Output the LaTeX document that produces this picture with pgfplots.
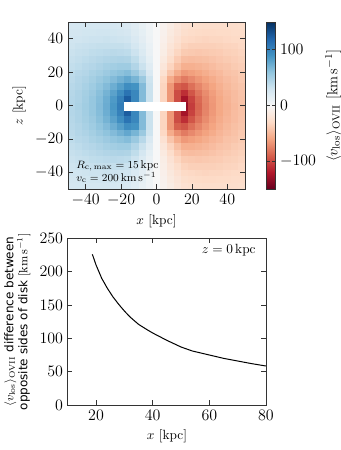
\documentclass[border=0pt]{standalone}
\usepackage{fontspec}
\usepackage{pgfplots}
\pgfplotsset{compat=1.18}
\newfontfamily\dejavu{DejaVu Sans}

\pgfplotsset{
  colormap={rdbu}{rgb255=(103,0,31) rgb255=(178,24,43) rgb255=(214,96,77)
    rgb255=(244,165,130) rgb255=(253,219,199) rgb255=(247,247,247)
    rgb255=(209,229,240) rgb255=(146,197,222) rgb255=(67,147,195)
    rgb255=(33,102,172) rgb255=(5,48,97)},
  panel/.style={scale only axis, axis on top, tick align=inside,
    major tick length=3.5pt, minor tick num=0,
    axis line style={black!80, line width=0.7pt},
    tick style={black!80, line width=0.6pt},
    tick label style={font=\fontsize{12}{14}\selectfont},
    label style={font=\fontsize{10}{12}\selectfont}},
}

\begin{document}
\begin{tikzpicture}
\path[use as bounding box] (0,0) rectangle (255pt,-337.5pt);

% top: line-of-sight velocity map
\begin{axis}[panel,
  at={(51pt,-141.75pt)}, anchor=south west,
  width=132.75pt, height=125.25pt,
  xmin=-50, xmax=50, ymin=-50, ymax=50, enlargelimits=false,
  xtick={-40,-20,0,20,40}, ytick={-40,-20,0,20,40},
  xlabel={$x$ [kpc]}, ylabel={$z$ [kpc]},
  colormap name=rdbu, point meta min=-150, point meta max=150,
  colorbar,
  colorbar style={at={(parent axis.north east)}, anchor=north west,
    xshift=7.5pt, width=6.75pt,
    ytick={-100,0,100}, yticklabel pos=right, ytick pos=both,
    tick align=inside, major tick length=2.5pt,
    axis line style={black!80, line width=0.7pt},
    tick style={black!80, line width=0.6pt},
    tick label style={font=\fontsize{12}{14}\selectfont},
    ylabel={$\langle v_{\mathrm{los}}\rangle_{\mathrm{OVII}}$ [km\,s$^{-1}$]},
    ylabel style={font=\fontsize{11}{13}\selectfont}},
]
\addplot[matrix plot*, mesh/cols=25, point meta=explicit]
  table[meta=v, row sep=\\] {
x y v\\
-48 -48 26\\ -44 -48 27\\ -40 -48 27\\ -36 -48 27\\ -32 -48 27\\ -28 -48 27\\ -24 -48 26\\ -20 -48 25\\ -16 -48 23\\ -12 -48 18\\ -8 -48 12\\ -4 -48 6\\ 0 -48 0\\ 4 -48 -6\\ 8 -48 -12\\ 12 -48 -18\\ 16 -48 -23\\ 20 -48 -25\\ 24 -48 -26\\ 28 -48 -27\\ 32 -48 -27\\ 36 -48 -27\\ 40 -48 -27\\ 44 -48 -27\\ 48 -48 -26\\
-48 -44 28\\ -44 -44 28\\ -40 -44 29\\ -36 -44 29\\ -32 -44 30\\ -28 -44 30\\ -24 -44 29\\ -20 -44 28\\ -16 -44 26\\ -12 -44 20\\ -8 -44 14\\ -4 -44 7\\ 0 -44 0\\ 4 -44 -7\\ 8 -44 -14\\ 12 -44 -20\\ 16 -44 -26\\ 20 -44 -28\\ 24 -44 -29\\ 28 -44 -30\\ 32 -44 -30\\ 36 -44 -29\\ 40 -44 -29\\ 44 -44 -28\\ 48 -44 -28\\
-48 -40 30\\ -44 -40 30\\ -40 -40 31\\ -36 -40 32\\ -32 -40 32\\ -28 -40 33\\ -24 -40 32\\ -20 -40 31\\ -16 -40 30\\ -12 -40 23\\ -8 -40 16\\ -4 -40 8\\ 0 -40 0\\ 4 -40 -8\\ 8 -40 -16\\ 12 -40 -23\\ 16 -40 -30\\ 20 -40 -31\\ 24 -40 -32\\ 28 -40 -33\\ 32 -40 -32\\ 36 -40 -32\\ 40 -40 -31\\ 44 -40 -30\\ 48 -40 -30\\
-48 -36 31\\ -44 -36 33\\ -40 -36 34\\ -36 -36 35\\ -32 -36 36\\ -28 -36 36\\ -24 -36 36\\ -20 -36 36\\ -16 -36 34\\ -12 -36 27\\ -8 -36 19\\ -4 -36 10\\ 0 -36 0\\ 4 -36 -10\\ 8 -36 -19\\ 12 -36 -27\\ 16 -36 -34\\ 20 -36 -36\\ 24 -36 -36\\ 28 -36 -36\\ 32 -36 -36\\ 36 -36 -35\\ 40 -36 -34\\ 44 -36 -33\\ 48 -36 -31\\
-48 -32 33\\ -44 -32 35\\ -40 -32 36\\ -36 -32 38\\ -32 -32 39\\ -28 -32 40\\ -24 -32 41\\ -20 -32 40\\ -16 -32 39\\ -12 -32 32\\ -8 -32 22\\ -4 -32 11\\ 0 -32 0\\ 4 -32 -11\\ 8 -32 -22\\ 12 -32 -32\\ 16 -32 -39\\ 20 -32 -40\\ 24 -32 -41\\ 28 -32 -40\\ 32 -32 -39\\ 36 -32 -38\\ 40 -32 -36\\ 44 -32 -35\\ 48 -32 -33\\
-48 -28 35\\ -44 -28 37\\ -40 -28 39\\ -36 -28 41\\ -32 -28 43\\ -28 -28 45\\ -24 -28 46\\ -20 -28 47\\ -16 -28 46\\ -12 -28 38\\ -8 -28 27\\ -4 -28 14\\ 0 -28 0\\ 4 -28 -14\\ 8 -28 -27\\ 12 -28 -38\\ 16 -28 -46\\ 20 -28 -47\\ 24 -28 -46\\ 28 -28 -45\\ 32 -28 -43\\ 36 -28 -41\\ 40 -28 -39\\ 44 -28 -37\\ 48 -28 -35\\
-48 -24 37\\ -44 -24 39\\ -40 -24 42\\ -36 -24 44\\ -32 -24 47\\ -28 -24 50\\ -24 -24 52\\ -20 -24 54\\ -16 -24 54\\ -12 -24 45\\ -8 -24 33\\ -4 -24 18\\ 0 -24 0\\ 4 -24 -18\\ 8 -24 -33\\ 12 -24 -45\\ 16 -24 -54\\ 20 -24 -54\\ 24 -24 -52\\ 28 -24 -50\\ 32 -24 -47\\ 36 -24 -44\\ 40 -24 -42\\ 44 -24 -39\\ 48 -24 -37\\
-48 -20 39\\ -44 -20 42\\ -40 -20 44\\ -36 -20 48\\ -32 -20 51\\ -28 -20 55\\ -24 -20 59\\ -20 -20 62\\ -16 -20 65\\ -12 -20 56\\ -8 -20 42\\ -4 -20 23\\ 0 -20 0\\ 4 -20 -23\\ 8 -20 -42\\ 12 -20 -56\\ 16 -20 -65\\ 20 -20 -62\\ 24 -20 -59\\ 28 -20 -55\\ 32 -20 -51\\ 36 -20 -48\\ 40 -20 -44\\ 44 -20 -42\\ 48 -20 -39\\
-48 -16 40\\ -44 -16 44\\ -40 -16 47\\ -36 -16 51\\ -32 -16 56\\ -28 -16 61\\ -24 -16 66\\ -20 -16 72\\ -16 -16 78\\ -12 -16 70\\ -8 -16 56\\ -4 -16 31\\ 0 -16 0\\ 4 -16 -31\\ 8 -16 -56\\ 12 -16 -70\\ 16 -16 -78\\ 20 -16 -72\\ 24 -16 -66\\ 28 -16 -61\\ 32 -16 -56\\ 36 -16 -51\\ 40 -16 -47\\ 44 -16 -44\\ 48 -16 -40\\
-48 -12 42\\ -44 -12 45\\ -40 -12 49\\ -36 -12 54\\ -32 -12 60\\ -28 -12 66\\ -24 -12 74\\ -20 -12 83\\ -16 -12 94\\ -12 -12 90\\ -8 -12 66\\ -4 -12 33\\ 0 -12 0\\ 4 -12 -33\\ 8 -12 -66\\ 12 -12 -90\\ 16 -12 -94\\ 20 -12 -83\\ 24 -12 -74\\ 28 -12 -66\\ 32 -12 -60\\ 36 -12 -54\\ 40 -12 -49\\ 44 -12 -45\\ 48 -12 -42\\
-48 -8 43\\ -44 -8 47\\ -40 -8 51\\ -36 -8 56\\ -32 -8 63\\ -28 -8 71\\ -24 -8 81\\ -20 -8 94\\ -16 -8 111\\ -12 -8 98\\ -8 -8 66\\ -4 -8 33\\ 0 -8 0\\ 4 -8 -33\\ 8 -8 -66\\ 12 -8 -98\\ 16 -8 -111\\ 20 -8 -94\\ 24 -8 -81\\ 28 -8 -71\\ 32 -8 -63\\ 36 -8 -56\\ 40 -8 -51\\ 44 -8 -47\\ 48 -8 -43\\
-48 -4 44\\ -44 -4 47\\ -40 -4 52\\ -36 -4 58\\ -32 -4 65\\ -28 -4 74\\ -24 -4 86\\ -20 -4 102\\ -16 -4 125\\ -12 -4 98\\ -8 -4 66\\ -4 -4 33\\ 0 -4 0\\ 4 -4 -33\\ 8 -4 -66\\ 12 -4 -98\\ 16 -4 -125\\ 20 -4 -102\\ 24 -4 -86\\ 28 -4 -74\\ 32 -4 -65\\ 36 -4 -58\\ 40 -4 -52\\ 44 -4 -47\\ 48 -4 -44\\
-48 0 44\\ -44 0 48\\ -40 0 53\\ -36 0 58\\ -32 0 66\\ -28 0 75\\ -24 0 88\\ -20 0 105\\ -16 0 131\\ -12 0 98\\ -8 0 66\\ -4 0 33\\ 0 0 0\\ 4 0 -33\\ 8 0 -66\\ 12 0 -98\\ 16 0 -131\\ 20 0 -105\\ 24 0 -88\\ 28 0 -75\\ 32 0 -66\\ 36 0 -58\\ 40 0 -53\\ 44 0 -48\\ 48 0 -44\\
-48 4 44\\ -44 4 47\\ -40 4 52\\ -36 4 58\\ -32 4 65\\ -28 4 74\\ -24 4 86\\ -20 4 102\\ -16 4 125\\ -12 4 98\\ -8 4 66\\ -4 4 33\\ 0 4 0\\ 4 4 -33\\ 8 4 -66\\ 12 4 -98\\ 16 4 -125\\ 20 4 -102\\ 24 4 -86\\ 28 4 -74\\ 32 4 -65\\ 36 4 -58\\ 40 4 -52\\ 44 4 -47\\ 48 4 -44\\
-48 8 43\\ -44 8 47\\ -40 8 51\\ -36 8 56\\ -32 8 63\\ -28 8 71\\ -24 8 81\\ -20 8 94\\ -16 8 111\\ -12 8 98\\ -8 8 66\\ -4 8 33\\ 0 8 0\\ 4 8 -33\\ 8 8 -66\\ 12 8 -98\\ 16 8 -111\\ 20 8 -94\\ 24 8 -81\\ 28 8 -71\\ 32 8 -63\\ 36 8 -56\\ 40 8 -51\\ 44 8 -47\\ 48 8 -43\\
-48 12 42\\ -44 12 45\\ -40 12 49\\ -36 12 54\\ -32 12 60\\ -28 12 66\\ -24 12 74\\ -20 12 83\\ -16 12 94\\ -12 12 90\\ -8 12 66\\ -4 12 33\\ 0 12 0\\ 4 12 -33\\ 8 12 -66\\ 12 12 -90\\ 16 12 -94\\ 20 12 -83\\ 24 12 -74\\ 28 12 -66\\ 32 12 -60\\ 36 12 -54\\ 40 12 -49\\ 44 12 -45\\ 48 12 -42\\
-48 16 40\\ -44 16 44\\ -40 16 47\\ -36 16 51\\ -32 16 56\\ -28 16 61\\ -24 16 66\\ -20 16 72\\ -16 16 78\\ -12 16 70\\ -8 16 56\\ -4 16 31\\ 0 16 0\\ 4 16 -31\\ 8 16 -56\\ 12 16 -70\\ 16 16 -78\\ 20 16 -72\\ 24 16 -66\\ 28 16 -61\\ 32 16 -56\\ 36 16 -51\\ 40 16 -47\\ 44 16 -44\\ 48 16 -40\\
-48 20 39\\ -44 20 42\\ -40 20 44\\ -36 20 48\\ -32 20 51\\ -28 20 55\\ -24 20 59\\ -20 20 62\\ -16 20 65\\ -12 20 56\\ -8 20 42\\ -4 20 23\\ 0 20 0\\ 4 20 -23\\ 8 20 -42\\ 12 20 -56\\ 16 20 -65\\ 20 20 -62\\ 24 20 -59\\ 28 20 -55\\ 32 20 -51\\ 36 20 -48\\ 40 20 -44\\ 44 20 -42\\ 48 20 -39\\
-48 24 37\\ -44 24 39\\ -40 24 42\\ -36 24 44\\ -32 24 47\\ -28 24 50\\ -24 24 52\\ -20 24 54\\ -16 24 54\\ -12 24 45\\ -8 24 33\\ -4 24 18\\ 0 24 0\\ 4 24 -18\\ 8 24 -33\\ 12 24 -45\\ 16 24 -54\\ 20 24 -54\\ 24 24 -52\\ 28 24 -50\\ 32 24 -47\\ 36 24 -44\\ 40 24 -42\\ 44 24 -39\\ 48 24 -37\\
-48 28 35\\ -44 28 37\\ -40 28 39\\ -36 28 41\\ -32 28 43\\ -28 28 45\\ -24 28 46\\ -20 28 47\\ -16 28 46\\ -12 28 38\\ -8 28 27\\ -4 28 14\\ 0 28 0\\ 4 28 -14\\ 8 28 -27\\ 12 28 -38\\ 16 28 -46\\ 20 28 -47\\ 24 28 -46\\ 28 28 -45\\ 32 28 -43\\ 36 28 -41\\ 40 28 -39\\ 44 28 -37\\ 48 28 -35\\
-48 32 33\\ -44 32 35\\ -40 32 36\\ -36 32 38\\ -32 32 39\\ -28 32 40\\ -24 32 41\\ -20 32 40\\ -16 32 39\\ -12 32 32\\ -8 32 22\\ -4 32 11\\ 0 32 0\\ 4 32 -11\\ 8 32 -22\\ 12 32 -32\\ 16 32 -39\\ 20 32 -40\\ 24 32 -41\\ 28 32 -40\\ 32 32 -39\\ 36 32 -38\\ 40 32 -36\\ 44 32 -35\\ 48 32 -33\\
-48 36 31\\ -44 36 33\\ -40 36 34\\ -36 36 35\\ -32 36 36\\ -28 36 36\\ -24 36 36\\ -20 36 36\\ -16 36 34\\ -12 36 27\\ -8 36 19\\ -4 36 10\\ 0 36 0\\ 4 36 -10\\ 8 36 -19\\ 12 36 -27\\ 16 36 -34\\ 20 36 -36\\ 24 36 -36\\ 28 36 -36\\ 32 36 -36\\ 36 36 -35\\ 40 36 -34\\ 44 36 -33\\ 48 36 -31\\
-48 40 30\\ -44 40 30\\ -40 40 31\\ -36 40 32\\ -32 40 32\\ -28 40 33\\ -24 40 32\\ -20 40 31\\ -16 40 30\\ -12 40 23\\ -8 40 16\\ -4 40 8\\ 0 40 0\\ 4 40 -8\\ 8 40 -16\\ 12 40 -23\\ 16 40 -30\\ 20 40 -31\\ 24 40 -32\\ 28 40 -33\\ 32 40 -32\\ 36 40 -32\\ 40 40 -31\\ 44 40 -30\\ 48 40 -30\\
-48 44 28\\ -44 44 28\\ -40 44 29\\ -36 44 29\\ -32 44 30\\ -28 44 30\\ -24 44 29\\ -20 44 28\\ -16 44 26\\ -12 44 20\\ -8 44 14\\ -4 44 7\\ 0 44 0\\ 4 44 -7\\ 8 44 -14\\ 12 44 -20\\ 16 44 -26\\ 20 44 -28\\ 24 44 -29\\ 28 44 -30\\ 32 44 -30\\ 36 44 -29\\ 40 44 -29\\ 44 44 -28\\ 48 44 -28\\
-48 48 26\\ -44 48 27\\ -40 48 27\\ -36 48 27\\ -32 48 27\\ -28 48 27\\ -24 48 26\\ -20 48 25\\ -16 48 23\\ -12 48 18\\ -8 48 12\\ -4 48 6\\ 0 48 0\\ 4 48 -6\\ 8 48 -12\\ 12 48 -18\\ 16 48 -23\\ 20 48 -25\\ 24 48 -26\\ 28 48 -27\\ 32 48 -27\\ 36 48 -27\\ 40 48 -27\\ 44 48 -27\\ 48 48 -26\\
};
% disk mask
\addplot[draw=none, fill=white, forget plot]
  coordinates {(-18.2,-3.3) (16.7,-3.3) (16.7,2.2) (-18.2,2.2)} -- cycle;
\node[anchor=west, align=left, font=\fontsize{8.5}{9.5}\selectfont]
  at (axis cs:-48,-39.5) {$R_{\mathrm{c,\,max}}=15\,\mathrm{kpc}$\\$v_{\mathrm{c}}=200\,\mathrm{km\,s^{-1}}$};
\end{axis}

% bottom: velocity difference across the disk
\begin{axis}[panel,
  at={(50.8pt,-303.75pt)}, anchor=south west,
  width=148.7pt, height=125pt,
  xmin=10, xmax=80, ymin=0, ymax=250,
  xtick={20,40,60,80}, ytick={0,50,100,150,200,250},
  xlabel={$x$ [kpc]},
  ylabel={$\langle v_{\mathrm{los}}\rangle_{\mathrm{OVII}}$ difference between\\opposite sides of disk $[\mathrm{km\,s^{-1}}]$},
  ylabel style={align=center, font=\dejavu\fontsize{9}{10.5}\selectfont},
]
\addplot[black, line width=0.75pt] coordinates {
  (18.7,226) (20,210) (22,190) (24,175) (26,162) (28,151) (30,141)
  (32,132) (35,121) (38,113) (40,108) (45,97) (50,87) (54,81)
  (60,75) (65,70) (70,66) (75,62) (80,58.5)
};
\node[anchor=east, font=\fontsize{10}{12}\selectfont]
  at (axis cs:78,232) {$z=0\,\mathrm{kpc}$};
\end{axis}
\end{tikzpicture}
\end{document}
